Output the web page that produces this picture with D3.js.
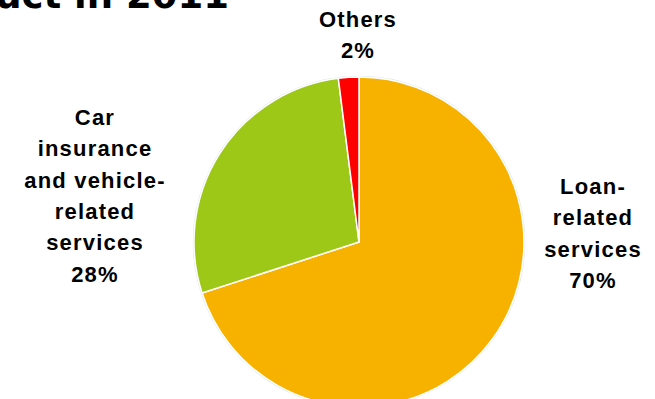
<!DOCTYPE html>
<html>
<head>
<meta charset="utf-8">
<script src="https://cdn.jsdelivr.net/npm/d3@7"></script>
<style>
  body { margin: 0; background: #fff; }
  svg { display: block; }
</style>
</head>
<body>
<div id="chart"></div>
<script>
// slice data, in drawing order (clockwise from 12 o'clock)
var categories = ["Loan-related services", "Car insurance and vehicle-related services", "Others"];
var values = [70, 28, 2];
var colors = ["#f7b200", "#9dc817", "#ff0000"];
// wrapped label lines as shown on the chart
var labelLines = [
  ["Loan-", "related", "services", "70%"],
  ["Car", "insurance", "and vehicle-", "related", "services", "28%"],
  ["Others", "2%"]
];
var title = "Revenue breakdown by product in 2011";

var width = 655, height = 399;
var cx = 359, cy = 242, radius = 165;
// label block anchors (center x, first baseline)
var labelPos = [[593, 194], [95, 125], [358, 27]];
var lineH = 31.3;

var svg = d3.select("#chart").append("svg")
    .attr("width", width)
    .attr("height", height);

svg.append("text")
    .attr("x", 229)
    .attr("y", 8)
    .attr("text-anchor", "end")
    .style("font", "bold 37px 'DejaVu Sans'")
    .attr("fill", "#000")
    .text(title);

var pie = d3.pie().sort(null).value(d => d);
var arc = d3.arc().innerRadius(0).outerRadius(radius);

var g = svg.append("g")
    .attr("transform", "translate(" + cx + "," + cy + ")");

g.append("circle")
    .attr("r", radius + 0.5)
    .attr("fill", "none")
    .attr("stroke", "#dde6ee")
    .attr("stroke-width", 1.5);

g.selectAll("path")
  .data(pie(values))
  .join("path")
    .attr("d", arc)
    .attr("fill", (d, i) => colors[i])
    .attr("stroke", "#fff")
    .attr("stroke-width", 1.5)
    .attr("stroke-linejoin", "round");

var labels = svg.selectAll("text.lbl")
  .data(labelLines)
  .join("text")
    .attr("class", "lbl")
    .attr("text-anchor", "middle")
    .style("font", "bold 22px 'Liberation Sans', Arial, sans-serif")
    .style("letter-spacing", "1.2px")
    .attr("fill", "#000");

labels.selectAll("tspan")
  .data((d, i) => d.map(t => ({ t: t, i: i })))
  .join("tspan")
    .attr("x", d => labelPos[d.i][0])
    .attr("y", (d, j) => labelPos[d.i][1] + j * lineH)
    .text(d => d.t);
</script>
</body>
</html>
